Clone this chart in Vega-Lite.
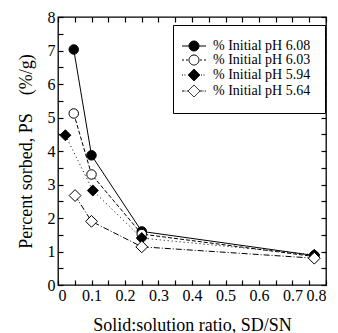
{
  "$schema": "https://vega.github.io/schema/vega-lite/v6.json",
  "width": 268,
  "height": 268,
  "autosize": "none",
  "padding": {"left": 58, "top": 17, "right": 12, "bottom": 48},
  "background": "white",
  "config": {
    "font": "Liberation Serif",
    "view": {"stroke": "black", "strokeWidth": 1.3},
    "axis": {"labelFont": "Liberation Serif", "titleFont": "Liberation Serif", "labelColor": "black", "titleColor": "black", "tickColor": "black", "ticks": true, "labelOverlap": false},
    "legend": {"labelFont": "Liberation Serif", "labelFontSize": 14, "labelColor": "black"}
  },
  "data": {
    "values": [
      {"series": "% Initial pH 6.08", "x": 0.047, "y": 7.03},
      {"series": "% Initial pH 6.08", "x": 0.1, "y": 3.87},
      {"series": "% Initial pH 6.08", "x": 0.25, "y": 1.6},
      {"series": "% Initial pH 6.08", "x": 0.765, "y": 0.88},
      {"series": "% Initial pH 6.03", "x": 0.047, "y": 5.12},
      {"series": "% Initial pH 6.03", "x": 0.1, "y": 3.3},
      {"series": "% Initial pH 6.03", "x": 0.25, "y": 1.52},
      {"series": "% Initial pH 6.03", "x": 0.765, "y": 0.85},
      {"series": "% Initial pH 5.94", "x": 0.022, "y": 4.47},
      {"series": "% Initial pH 5.94", "x": 0.104, "y": 2.82},
      {"series": "% Initial pH 5.94", "x": 0.25, "y": 1.4},
      {"series": "% Initial pH 5.94", "x": 0.765, "y": 0.9},
      {"series": "% Initial pH 5.64", "x": 0.051, "y": 2.67},
      {"series": "% Initial pH 5.64", "x": 0.1, "y": 1.9},
      {"series": "% Initial pH 5.64", "x": 0.25, "y": 1.14},
      {"series": "% Initial pH 5.64", "x": 0.765, "y": 0.8}
    ]
  },
  "layer": [
    {
      "transform": [{"filter": "datum.series == '% Initial pH 6.08'"}],
      "mark": {"type": "line", "color": "black", "strokeWidth": 1},
      "encoding": {
        "x": {"field": "x", "type": "quantitative", "scale": {"domain": [0, 0.8], "nice": false},
          "axis": {"title": "Solid:solution ratio, SD/SN", "titlePadding": 13, "labelPadding": 2,
            "domain": false, "grid": false, "ticks": true, "tickColor": "black", "tickSize": 5, "tickWidth": 1.2, "offset": -5,
            "labelOverlap": false, "labelColor": "black", "labelFont": "Liberation Serif", "labelFontSize": 16,
            "titleFont": "Liberation Serif", "titleFontSize": 18, "titleFontWeight": "normal", "titleColor": "black",
            "values": [0,0.05,0.1,0.15,0.2,0.25,0.3,0.35,0.4,0.45,0.5,0.55,0.6,0.65,0.7,0.75,0.8],
            "labelExpr": "abs(datum.value*10 - round(datum.value*10)) < 0.01 ? format(datum.value, '.1~f') : ''"}},
        "y": {"field": "y", "type": "quantitative", "scale": {"domain": [0, 8], "nice": false},
          "axis": {"title": "Percent sorbed, PS\u00a0\u00a0\u00a0\u00a0(%/g)", "titlePadding": 12, "labelPadding": 3,
            "domain": false, "grid": false, "ticks": true, "tickColor": "black", "tickSize": 5, "tickWidth": 1.2, "offset": -5,
            "labelOverlap": false, "labelColor": "black", "labelFont": "Liberation Serif", "labelFontSize": 16,
            "titleFont": "Liberation Serif", "titleFontSize": 18, "titleFontWeight": "normal", "titleColor": "black",
            "values": [0,0.5,1,1.5,2,2.5,3,3.5,4,4.5,5,5.5,6,6.5,7,7.5,8],
            "labelExpr": "datum.value % 1 == 0 ? format(datum.value, 'd') : ''"}}
      }
    },
    {
      "transform": [{"filter": "datum.series == '% Initial pH 6.03'"}],
      "mark": {"type": "line", "color": "black", "strokeWidth": 1, "strokeDash": [4, 2]},
      "encoding": {"x": {"field": "x", "type": "quantitative", "axis": null}, "y": {"field": "y", "type": "quantitative", "axis": null}}
    },
    {
      "transform": [{"filter": "datum.series == '% Initial pH 5.94'"}],
      "mark": {"type": "line", "color": "black", "strokeWidth": 1, "strokeDash": [1, 3]},
      "encoding": {"x": {"field": "x", "type": "quantitative", "axis": null}, "y": {"field": "y", "type": "quantitative", "axis": null}}
    },
    {
      "transform": [{"filter": "datum.series == '% Initial pH 5.64'"}],
      "mark": {"type": "line", "color": "black", "strokeWidth": 1, "strokeDash": [6, 2, 1, 2]},
      "encoding": {"x": {"field": "x", "type": "quantitative", "axis": null}, "y": {"field": "y", "type": "quantitative", "axis": null}}
    },
    {
      "transform": [{"filter": "datum.series == '% Initial pH 6.08'"}],
      "mark": {"type": "point", "shape": "circle", "fill": "black", "stroke": "black", "strokeWidth": 1, "opacity": 1, "size": 90},
      "encoding": {"x": {"field": "x", "type": "quantitative", "axis": null}, "y": {"field": "y", "type": "quantitative", "axis": null}}
    },
    {
      "transform": [{"filter": "datum.series == '% Initial pH 6.03'"}],
      "mark": {"type": "point", "shape": "circle", "fill": "white", "stroke": "black", "strokeWidth": 1, "opacity": 1, "size": 90},
      "encoding": {"x": {"field": "x", "type": "quantitative", "axis": null}, "y": {"field": "y", "type": "quantitative", "axis": null}}
    },
    {
      "transform": [{"filter": "datum.series == '% Initial pH 5.94'"}],
      "mark": {"type": "point", "shape": "diamond", "fill": "black", "stroke": "black", "strokeWidth": 1, "opacity": 1, "size": 120},
      "encoding": {"x": {"field": "x", "type": "quantitative", "axis": null}, "y": {"field": "y", "type": "quantitative", "axis": null}}
    },
    {
      "transform": [{"filter": "datum.series == '% Initial pH 5.64'"}],
      "mark": {"type": "point", "shape": "diamond", "fill": "white", "stroke": "black", "strokeWidth": 1, "opacity": 1, "size": 140},
      "encoding": {"x": {"field": "x", "type": "quantitative", "axis": null}, "y": {"field": "y", "type": "quantitative", "axis": null}}
    },
    {
      "transform": [{"filter": "datum.x < 0"}],
      "mark": {"type": "line", "color": "black", "strokeWidth": 1, "opacity": 1},
      "encoding": {
        "x": {"field": "x", "type": "quantitative", "axis": null},
        "y": {"field": "y", "type": "quantitative", "axis": null},
        "strokeDash": {"field": "series", "type": "nominal",
          "scale": {"domain": ["% Initial pH 6.08", "% Initial pH 6.03", "% Initial pH 5.94", "% Initial pH 5.64"],
            "range": [[1, 0], [1, 0], [1, 0], [1, 0]]},
          "legend": {"title": null, "orient": "none", "legendX": 115, "legendY": 8,
            "strokeColor": "black", "fillColor": "white", "padding": 14, "rowPadding": 0,
            "symbolSize": 100, "symbolStrokeColor": "black", "symbolStrokeWidth": 1, "symbolOpacity": 1, "labelOffset": 12,
            "labelFont": "Liberation Serif", "labelFontSize": 14, "labelColor": "black"}}
      }
    },
    {
      "transform": [{"filter": "datum.x < 0"}],
      "mark": {"type": "point", "stroke": "black", "strokeWidth": 1, "opacity": 1},
      "encoding": {
        "x": {"field": "x", "type": "quantitative", "axis": null},
        "y": {"field": "y", "type": "quantitative", "axis": null},
        "shape": {"field": "series", "type": "nominal",
          "scale": {"domain": ["% Initial pH 6.08", "% Initial pH 6.03", "% Initial pH 5.94", "% Initial pH 5.64"],
            "range": [
              "M-2.4,0L-1,0M1,0L2.4,0M1,0A1,1,0,1,1,-1,0A1,1,0,1,1,1,0Z",
              "M-2.4,0L-2,0M-1.6,0L-1.2,0M1.2,0L1.6,0M2,0L2.4,0M1,0A1,1,0,1,1,-1,0A1,1,0,1,1,1,0Z",
              "M-2.4,0L-2.2,0M-1.9,0L-1.7,0M1.4,0L1.6,0M1.9,0L2.1,0M0,-1.2L1.2,0L0,1.2L-1.2,0Z",
              "M-2.4,0L-1.9,0M-1.7,0L-1.6,0M-1.45,0L-1.2,0M1.2,0L1.7,0M1.9,0L2,0M2.15,0L2.4,0M0,-1.2L1.2,0L0,1.2L-1.2,0Z"
            ]}},
        "fill": {"field": "series", "type": "nominal",
          "scale": {"domain": ["% Initial pH 6.08", "% Initial pH 6.03", "% Initial pH 5.94", "% Initial pH 5.64"],
            "range": ["black", "white", "black", "white"]}}
      }
    },
    {
      "mark": {"type": "point", "opacity": 0},
      "encoding": {
        "x": {"field": "x", "type": "quantitative",
          "axis": {"orient": "top", "title": null, "labels": false, "domain": false, "grid": false,
            "ticks": true, "tickColor": "black", "tickSize": 5, "tickWidth": 1.2, "offset": -5,
            "values": [0,0.05,0.1,0.15,0.2,0.25,0.3,0.35,0.4,0.45,0.5,0.55,0.6,0.65,0.7,0.75,0.8]}},
        "y": {"field": "y", "type": "quantitative",
          "axis": {"orient": "right", "title": null, "labels": false, "domain": false, "grid": false,
            "ticks": true, "tickColor": "black", "tickSize": 5, "tickWidth": 1.2, "offset": -5,
            "values": [0,0.5,1,1.5,2,2.5,3,3.5,4,4.5,5,5.5,6,6.5,7,7.5,8]}}
      }
    }
  ],
  "resolve": {"axis": {"x": "independent", "y": "independent"}}
}
